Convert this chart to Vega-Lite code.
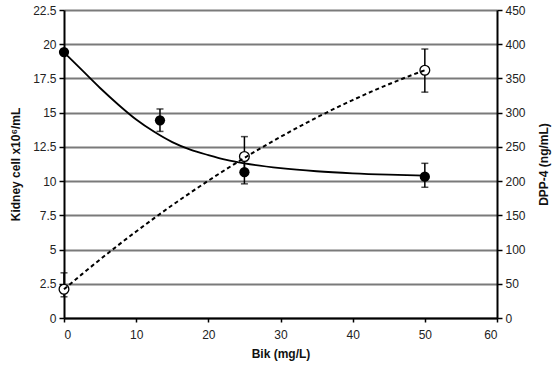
{
  "$schema": "https://vega.github.io/schema/vega-lite/v6.json",
  "width": 433,
  "height": 308,
  "autosize": "none",
  "padding": {"left": 64, "top": 10, "right": 56, "bottom": 47},
  "config": {
    "font": "Liberation Sans",
    "view": {"stroke": null},
    "axis": {
      "labelFontSize": 12,
      "titleFontSize": 12,
      "labelColor": "#222",
      "titleColor": "#111",
      "titleFontWeight": "bold",
      "domainColor": "#000",
      "domainWidth": 2,
      "tickColor": "#000",
      "tickWidth": 1.5,
      "tickSize": 5,
      "labelPadding": 3,
      "labelOverlap": false
    }
  },
  "datasets": {
    "kid": [
      {"x": 0, "y": 19.43, "lo": 19.43, "hi": 19.43},
      {"x": 13.3, "y": 14.44, "lo": 13.63, "hi": 15.27},
      {"x": 25, "y": 10.65, "lo": 9.8, "hi": 11.5},
      {"x": 50, "y": 10.32, "lo": 9.55, "hi": 11.3}
    ],
    "dpp": [
      {"x": 0, "y": 42, "lo": 31, "hi": 66},
      {"x": 25, "y": 236, "lo": 210, "hi": 265},
      {"x": 50, "y": 362, "lo": 330, "hi": 393}
    ],
    "kfit": [
      {"x": 0, "y": 19.4}, {"x": 2.5, "y": 18.1}, {"x": 5, "y": 16.8}, {"x": 7.5, "y": 15.6},
      {"x": 10, "y": 14.5}, {"x": 12.5, "y": 13.6}, {"x": 15, "y": 12.85}, {"x": 17.5, "y": 12.3},
      {"x": 20, "y": 11.9}, {"x": 22.5, "y": 11.55}, {"x": 25, "y": 11.3}, {"x": 30, "y": 10.95},
      {"x": 35, "y": 10.72}, {"x": 40, "y": 10.57}, {"x": 45, "y": 10.47}, {"x": 50, "y": 10.4}
    ],
    "dfit": [
      {"x": 0, "y": 42}, {"x": 2.5, "y": 64.1}, {"x": 5, "y": 85.5}, {"x": 7.5, "y": 106.3},
      {"x": 10, "y": 126.4}, {"x": 12.5, "y": 145.9}, {"x": 15, "y": 164.8}, {"x": 17.5, "y": 183.0},
      {"x": 20, "y": 200.6}, {"x": 22.5, "y": 217.6}, {"x": 25, "y": 233.9}, {"x": 27.5, "y": 249.6},
      {"x": 30, "y": 264.6}, {"x": 32.5, "y": 279.0}, {"x": 35, "y": 292.8}, {"x": 37.5, "y": 305.9},
      {"x": 40, "y": 318.4}, {"x": 42.5, "y": 330.3}, {"x": 45, "y": 341.5}, {"x": 47.5, "y": 352.1},
      {"x": 50, "y": 362}
    ]
  },
  "encoding": {
    "x": {
      "field": "x", "type": "quantitative",
      "scale": {"domain": [0, 60], "nice": false},
      "axis": {"title": "Bik (mg/L)", "values": [0, 10, 20, 30, 40, 50, 60], "grid": false, "tickSize": 4, "labelPadding": 7, "titlePadding": 8, "zindex": 2}
    }
  },
  "layer": [
    {
      "layer": [
        {
          "data": {"name": "kfit"},
          "mark": {"type": "line", "color": "#000", "strokeWidth": 1.8, "interpolate": "monotone"},
          "encoding": {
            "y": {
              "field": "y", "type": "quantitative",
              "scale": {"domain": [0, 22.5], "nice": false, "zero": false},
              "axis": {
                "orient": "left",
                "title": "Kidney cell x10⁶/mL",
                "values": [0, 2.5, 5, 7.5, 10, 12.5, 15, 17.5, 20, 22.5],
                "labelExpr": "'' + datum.value",
                "grid": true, "gridColor": "#7a7a7a", "gridWidth": 2,
                "titlePadding": 10
              }
            }
          }
        },
        {
          "data": {"name": "kid"},
          "mark": {"type": "rule", "color": "#000", "strokeWidth": 1.5},
          "encoding": {
            "y": {"field": "lo", "type": "quantitative",
              "axis": {
                "orient": "left",
                "title": "Kidney cell x10⁶/mL",
                "values": [0, 2.5, 5, 7.5, 10, 12.5, 15, 17.5, 20, 22.5],
                "labelExpr": "'' + datum.value",
                "grid": true, "gridColor": "#7a7a7a", "gridWidth": 2,
                "titlePadding": 10
              }},
            "y2": {"field": "hi"}
          }
        },
        {
          "data": {"name": "kid"},
          "mark": {"type": "tick", "color": "#000", "orient": "horizontal", "size": 7, "thickness": 1.5},
          "encoding": {"y": {"field": "lo", "type": "quantitative",
              "axis": {
                "orient": "left",
                "title": "Kidney cell x10⁶/mL",
                "values": [0, 2.5, 5, 7.5, 10, 12.5, 15, 17.5, 20, 22.5],
                "labelExpr": "'' + datum.value",
                "grid": true, "gridColor": "#7a7a7a", "gridWidth": 2,
                "titlePadding": 10
              }}}
        },
        {
          "data": {"name": "kid"},
          "mark": {"type": "tick", "color": "#000", "orient": "horizontal", "size": 7, "thickness": 1.5},
          "encoding": {"y": {"field": "hi", "type": "quantitative",
              "axis": {
                "orient": "left",
                "title": "Kidney cell x10⁶/mL",
                "values": [0, 2.5, 5, 7.5, 10, 12.5, 15, 17.5, 20, 22.5],
                "labelExpr": "'' + datum.value",
                "grid": true, "gridColor": "#7a7a7a", "gridWidth": 2,
                "titlePadding": 10
              }}}
        },
        {
          "data": {"name": "kid"},
          "mark": {"type": "point", "shape": "circle", "filled": true, "color": "#000", "size": 105, "opacity": 1},
          "encoding": {"y": {"field": "y", "type": "quantitative",
              "axis": {
                "orient": "left",
                "title": "Kidney cell x10⁶/mL",
                "values": [0, 2.5, 5, 7.5, 10, 12.5, 15, 17.5, 20, 22.5],
                "labelExpr": "'' + datum.value",
                "grid": true, "gridColor": "#7a7a7a", "gridWidth": 2,
                "titlePadding": 10
              }}}
        }
      ]
    },
    {
      "layer": [
        {
          "data": {"name": "dpp"},
          "mark": {"type": "rule", "color": "#000", "strokeWidth": 1.5},
          "encoding": {
            "y": {
              "field": "lo", "type": "quantitative",
              "scale": {"domain": [0, 450], "nice": false},
              "axis": {
                "orient": "right",
                "title": "DPP-4 (ng/mL)",
                "values": [0, 50, 100, 150, 200, 250, 300, 350, 400, 450],
                "grid": false,
                "titleAngle": -90, "titleX": 46, "titleY": 154, "titleAlign": "center", "titleBaseline": "middle"
              }
            },
            "y2": {"field": "hi"}
          }
        },
        {
          "data": {"name": "dpp"},
          "mark": {"type": "tick", "color": "#000", "orient": "horizontal", "size": 7, "thickness": 1.5},
          "encoding": {"y": {"field": "lo", "type": "quantitative",
              "axis": {
                "orient": "right",
                "title": "DPP-4 (ng/mL)",
                "values": [0, 50, 100, 150, 200, 250, 300, 350, 400, 450],
                "grid": false,
                "titleAngle": -90, "titleX": 46, "titleY": 154, "titleAlign": "center", "titleBaseline": "middle"
              }}}
        },
        {
          "data": {"name": "dpp"},
          "mark": {"type": "tick", "color": "#000", "orient": "horizontal", "size": 7, "thickness": 1.5},
          "encoding": {"y": {"field": "hi", "type": "quantitative",
              "axis": {
                "orient": "right",
                "title": "DPP-4 (ng/mL)",
                "values": [0, 50, 100, 150, 200, 250, 300, 350, 400, 450],
                "grid": false,
                "titleAngle": -90, "titleX": 46, "titleY": 154, "titleAlign": "center", "titleBaseline": "middle"
              }}}
        },
        {
          "data": {"name": "dpp"},
          "mark": {"type": "point", "shape": "circle", "filled": true, "fill": "#fff", "stroke": "#000", "strokeWidth": 1.3, "size": 95, "opacity": 1},
          "encoding": {"y": {"field": "y", "type": "quantitative",
              "axis": {
                "orient": "right",
                "title": "DPP-4 (ng/mL)",
                "values": [0, 50, 100, 150, 200, 250, 300, 350, 400, 450],
                "grid": false,
                "titleAngle": -90, "titleX": 46, "titleY": 154, "titleAlign": "center", "titleBaseline": "middle"
              }}}
        },
        {
          "data": {"name": "dfit"},
          "mark": {"type": "line", "color": "#000", "strokeWidth": 2, "strokeDash": [4, 3], "interpolate": "monotone"},
          "encoding": {"y": {"field": "y", "type": "quantitative",
              "axis": {
                "orient": "right",
                "title": "DPP-4 (ng/mL)",
                "values": [0, 50, 100, 150, 200, 250, 300, 350, 400, 450],
                "grid": false,
                "titleAngle": -90, "titleX": 46, "titleY": 154, "titleAlign": "center", "titleBaseline": "middle"
              }}}
        }
      ]
    }
  ],
  "resolve": {"scale": {"y": "independent"}, "axis": {"y": "independent"}}
}
